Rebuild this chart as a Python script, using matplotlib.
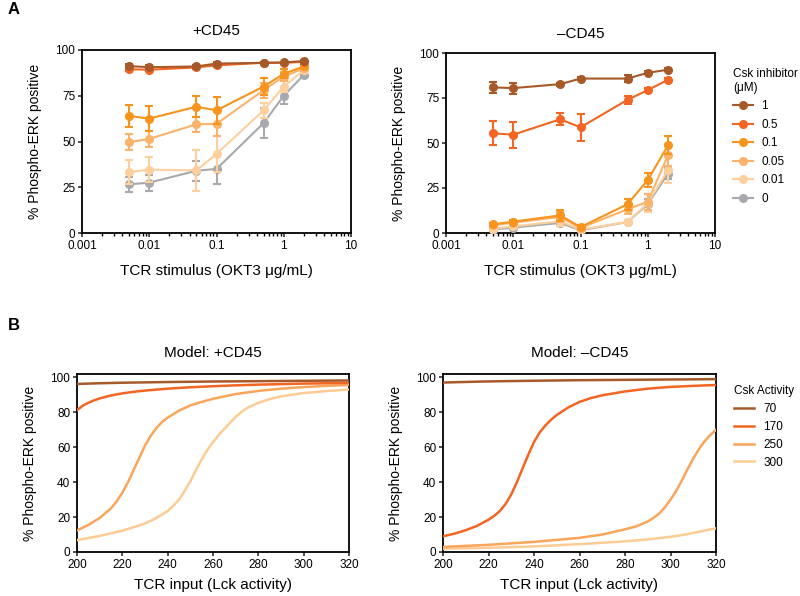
import matplotlib
matplotlib.use('Agg')
import matplotlib.pyplot as plt

plt.rcParams['font.family'] = ['Liberation Sans', 'DejaVu Sans']

# --- panel A: measured phospho-ERK vs OKT3 dose ---
dose = [0.005, 0.01, 0.05, 0.1, 0.5, 1, 2]
inhibitor_labels = ['1', '0.5', '0.1', '0.05', '0.01', '0']
inhibitor_colors = ['#A65A2A', '#F26522', '#F7941D', '#FBB36B', '#FDD09E', '#A7A9AC']

plus_mean = [
    [91.2, 90.6, 91.0, 92.6, 93.0, 93.2, 94.0],
    [89.5, 89.2, 90.5, 91.6, 93.0, 93.0, 93.5],
    [64.0, 62.5, 69.0, 67.0, 80.0, 87.0, 91.0],
    [49.6, 51.4, 59.4, 59.6, 78.0, 85.5, 90.0],
    [33.3, 34.6, 34.2, 43.2, 67.0, 80.0, 89.0],
    [26.6, 27.5, 34.0, 35.0, 60.0, 75.0, 86.5],
]
plus_err = [
    [1.0, 1.0, 0.8, 0.8, 0.5, 0.5, 0.5],
    [0.8, 0.8, 0.8, 0.8, 0.5, 0.5, 0.5],
    [6.0, 7.0, 5.6, 7.3, 4.5, 2.5, 1.5],
    [4.3, 4.5, 4.2, 6.5, 4.0, 2.5, 1.5],
    [6.7, 6.8, 11.3, 10.0, 4.0, 3.0, 1.5],
    [4.2, 4.3, 5.4, 8.0, 8.3, 4.5, 1.5],
]
minus_mean = [
    [80.9, 80.5, 82.7, 85.8, 85.8, 89.0, 90.7],
    [55.4, 54.6, 63.2, 58.7, 74.0, 79.4, 85.1],
    [4.8, 6.3, 9.8, 3.3, 16.0, 29.4, 48.7],
    [4.3, 5.8, 8.9, 2.8, 13.2, 17.3, 43.3],
    [2.4, 3.7, 6.5, 1.9, 6.1, 16.7, 35.0],
    [1.9, 3.0, 5.6, 1.5, 6.1, 16.0, 33.0],
]
minus_err = [
    [3.0, 3.0, 0.8, 0.8, 2.0, 0.8, 0.8],
    [6.7, 7.2, 3.3, 7.6, 2.2, 1.0, 0.8],
    [1.0, 1.0, 3.0, 1.0, 3.0, 3.7, 5.0],
    [1.0, 1.0, 3.0, 1.0, 2.5, 4.5, 6.0],
    [0.8, 0.8, 2.5, 0.8, 1.0, 5.0, 7.0],
    [0.5, 0.5, 1.5, 0.5, 1.0, 3.0, 3.0],
]

# --- panel B: model curves vs Lck activity ---
csk_labels = ['70', '170', '250', '300']
csk_colors = ['#A65A2A', '#F26522', '#F9A55B', '#FDCB94']

plus_70_x = [200, 210, 220, 230, 240, 260, 280, 300, 320]
plus_70_y = [96.3, 96.7, 97.0, 97.2, 97.4, 97.7, 97.9, 98.1, 98.3]
plus_170_x = [200, 202.5, 205, 207.5, 210, 215, 220, 225, 230, 240, 250, 260, 270, 280, 290, 300, 310, 320]
plus_170_y = [81.3, 83.8, 85.5, 86.9, 88.0, 89.7, 90.9, 91.8, 92.5, 93.6, 94.4, 95.0, 95.5, 95.9, 96.2, 96.5, 96.7, 96.9]
plus_250_x = [200, 205, 210, 215, 217.5, 220, 222.5, 225, 227.5, 230, 232.5, 235, 237.5, 240, 245,
              250, 255, 260, 270, 280, 290, 300, 310, 320]
plus_250_y = [12.4, 15.5, 19.5, 25.0, 29.0, 34.0, 40.0, 47.0, 54.0, 61.0, 66.5, 71.0, 74.5, 77.0, 81.0,
              84.0, 86.0, 87.8, 90.5, 92.3, 93.6, 94.5, 95.2, 95.7]
plus_300_x = [200, 210, 220, 230, 235, 240, 242.5, 245, 247.5, 250, 252.5, 255, 257.5, 260, 262.5,
              265, 267.5, 270, 272.5, 275, 280, 285, 290, 300, 310, 320]
plus_300_y = [6.8, 9.2, 12.2, 16.3, 19.5, 23.5, 26.5, 30.0, 35.0, 40.5, 47.0, 53.0, 58.5, 63.0, 67.0,
              70.5, 74.0, 77.5, 80.2, 82.5, 85.5, 87.6, 89.2, 91.1, 92.2, 93.1]

minus_70_x = [200, 210, 220, 230, 240, 260, 280, 300, 320]
minus_70_y = [97.1, 97.45, 97.75, 97.95, 98.15, 98.45, 98.65, 98.85, 99.05]
minus_170_x = [200, 205, 210, 215, 220, 222.5, 225, 227.5, 230, 232.5, 235, 237.5, 240, 242.5, 245,
               247.5, 250, 255, 260, 265, 270, 280, 290, 300, 310, 320]
minus_170_y = [9.0, 10.5, 12.5, 15.0, 18.5, 20.7, 23.5, 27.5, 33.0, 40.0, 48.0, 55.8, 63.0, 68.5, 72.5,
               75.8, 78.5, 82.8, 86.0, 88.2, 89.8, 92.0, 93.6, 94.6, 95.2, 95.7]
minus_250_x = [200, 220, 240, 260, 270, 280, 285, 290, 292.5, 295, 297.5, 300, 302.5, 305, 307.5,
               310, 312.5, 315, 317.5, 320]
minus_250_y = [2.9, 4.1, 5.8, 8.1, 10.0, 13.0, 14.7, 17.5, 19.5, 22.0, 25.5, 30.0, 35.0, 41.0, 47.5,
               53.5, 59.0, 63.5, 67.0, 70.0]
minus_300_x = [200, 220, 240, 260, 270, 280, 290, 300, 305, 310, 315, 320]
minus_300_y = [1.9, 2.4, 3.2, 4.5, 5.3, 6.1, 7.2, 8.7, 9.7, 10.9, 12.3, 13.6]

W, H = 800, 596


def axes_px(fig, left, top, right, bottom):
    return fig.add_axes([left / W, 1 - bottom / H, (right - left) / W, (bottom - top) / H])


def style_axes(ax):
    for s in ax.spines.values():
        s.set_linewidth(1.3)
    ax.tick_params(which='major', direction='out', length=3, width=1.1, pad=1.8,
                   labelsize=8.5, color='#222222')
    ax.tick_params(which='minor', direction='out', length=2, width=1.0)
    ax.set_ylabel('% Phospho-ERK positive', fontsize=10, labelpad=10)


def data_panel(ax, means, errs, title):
    handles = []
    for i in reversed(range(len(means))):
        eb = ax.errorbar(dose, means[i], yerr=errs[i], color=inhibitor_colors[i], marker='o',
                         ms=5.5, lw=1.5, elinewidth=1.5, capsize=3, capthick=1.5, zorder=10 - i)
        handles.append(eb[0])
    ax.set_xscale('log')
    ax.set_xlim(0.001, 10)
    ax.set_ylim(0, 100)
    ax.set_xticks([0.001, 0.01, 0.1, 1, 10])
    ax.set_xticklabels(['0.001', '0.01', '0.1', '1', '10'])
    ax.set_yticks([0, 25, 50, 75, 100])
    ax.set_title(title, fontsize=11, pad=11)
    ax.set_xlabel('TCR stimulus (OKT3 \u03bcg/mL)', fontsize=11, labelpad=9)
    style_axes(ax)
    return handles[::-1]


def model_panel(ax, curves, title):
    handles = []
    for i in reversed(range(len(curves))):
        x, y = curves[i]
        ln, = ax.plot(x, y, color=csk_colors[i], lw=1.8, zorder=10 - i)
        handles.append(ln)
    ax.set_xlim(200, 320)
    ax.set_ylim(0, 102)
    ax.set_xticks(range(200, 321, 20))
    ax.set_yticks(range(0, 101, 20))
    ax.set_title(title, fontsize=11, pad=12)
    ax.set_xlabel('TCR input (Lck activity)', fontsize=11, labelpad=5)
    style_axes(ax)
    return handles[::-1]


fig = plt.figure(figsize=(W / 100, H / 100), dpi=100)

ax1 = axes_px(fig, 82, 50, 351, 233)
data_panel(ax1, plus_mean, plus_err, '+CD45')
ax2 = axes_px(fig, 446, 53, 715, 233)
h = data_panel(ax2, minus_mean, minus_err, '\u2013CD45')
fig.legend(h, inhibitor_labels, title='Csk inhibitor\n(\u03bcM)', loc='upper left',
           bbox_to_anchor=(733 / W, 1 - 68 / H), frameon=False, fontsize=8.5,
           title_fontsize=8.5, alignment='left', handlelength=1.7, handletextpad=0.7,
           labelspacing=0.55, borderpad=0, borderaxespad=0)

ax3 = axes_px(fig, 77, 374, 349, 552)
model_panel(ax3, [(plus_70_x, plus_70_y), (plus_170_x, plus_170_y),
                  (plus_250_x, plus_250_y), (plus_300_x, plus_300_y)], 'Model: +CD45')
ax4 = axes_px(fig, 443, 374, 716, 552)
h = model_panel(ax4, [(minus_70_x, minus_70_y), (minus_170_x, minus_170_y),
                      (minus_250_x, minus_250_y), (minus_300_x, minus_300_y)], 'Model: \u2013CD45')
fig.legend(h, csk_labels, title='Csk Activity', loc='upper left',
           bbox_to_anchor=(734 / W, 1 - 385 / H), frameon=False, fontsize=8.5,
           title_fontsize=8.5, alignment='left', handlelength=1.7, handletextpad=0.8,
           labelspacing=0.5, borderpad=0, borderaxespad=0)

fig.text(8 / W, 1 - 10 / H, 'A', fontsize=12, fontweight='bold', va='center')
fig.text(8 / W, 1 - 325 / H, 'B', fontsize=12, fontweight='bold', va='center')

plt.savefig('out.png', dpi=100)
